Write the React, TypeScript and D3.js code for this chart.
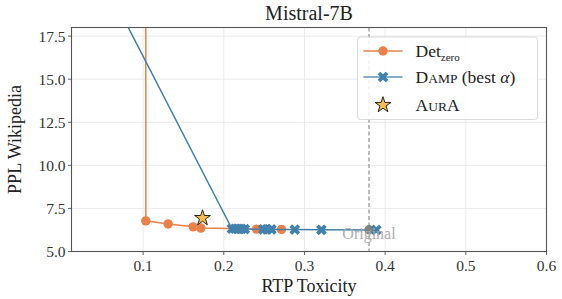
import React from 'react';
import * as d3 from 'd3';

// Det_zero sweep (orange)
const detX = [0.1033, 0.1033, 0.131, 0.162, 0.1716, 0.2405, 0.2715];
const detY = [60, 6.78, 6.6, 6.43, 6.36, 6.3, 6.28];

// Damp, best alpha (blue)
const dampX = [0.0376, 0.21, 0.214, 0.218, 0.222, 0.226, 0.249, 0.2535, 0.259, 0.288, 0.321, 0.389];
const dampY = [22.0, 6.32, 6.32, 6.31, 6.31, 6.3, 6.29, 6.29, 6.28, 6.27, 6.26, 6.25];

// AurA and the unmodified model
const auraPoint = { x: 0.1736, y: 6.94 };
const originalPoint = { x: 0.38, y: 6.26 };

const xTicks = [0.1, 0.2, 0.3, 0.4, 0.5, 0.6];
const yTicks = [5.0, 7.5, 10.0, 12.5, 15.0, 17.5];

const W = 562;
const H = 299;
const margin = { top: 27.5, right: 15.5, bottom: 47.5, left: 71.5 };
const FONT = '"Liberation Serif", "DejaVu Serif", serif';
const ORANGE = '#e8804c';
const BLUE = '#4281ab';
const GRAY = '#808080';
const AXIS = '#555';

export default function App() {
  const iw = W - margin.left - margin.right;
  const ih = H - margin.top - margin.bottom;

  const x = d3.scaleLinear().domain([0.0112, 0.6]).range([0, iw]);
  const y = d3.scaleLinear().domain([5, 18]).range([ih, 0]);

  const line = d3.line<[number, number]>()
    .x(d => x(d[0]))
    .y(d => y(d[1]));

  const detPts: [number, number][] = detX.map((v, i) => [v, detY[i]]);
  const dampPts: [number, number][] = dampX.map((v, i) => [v, dampY[i]]);

  const xMark = d3.symbol(d3.symbolCross, 72)() as string;
  const star = d3.symbol(d3.symbolStar, 78)() as string;

  const lx = 357.5 - margin.left;
  const ly = 37 - margin.top;

  return (
    <svg width={W} height={H} style={{ position: 'absolute', left: 0, top: 0, background: '#fff' }}
      fontFamily={FONT}>
      <defs>
        <clipPath id="plot-clip">
          <rect x={0} y={0} width={iw} height={ih} />
        </clipPath>
      </defs>
      <text x={margin.left + iw / 2} y={19.5} textAnchor="middle" fontSize={20} fill="#222">Mistral-7B</text>
      <g transform={`translate(${margin.left},${margin.top})`}>
        {/* grid */}
        {xTicks.map(t => (
          <line key={'gx' + t} x1={x(t)} x2={x(t)} y1={0} y2={ih} stroke="#e6e6e6" strokeWidth={0.8} />
        ))}
        {yTicks.map(t => (
          <line key={'gy' + t} x1={0} x2={iw} y1={y(t)} y2={y(t)} stroke="#e6e6e6" strokeWidth={0.8} />
        ))}

        {/* reference line at the original model */}
        <line x1={x(originalPoint.x)} x2={x(originalPoint.x)} y1={0} y2={ih}
          stroke="#777" strokeWidth={1} strokeDasharray="4,2.5" />

        <g clipPath="url(#plot-clip)">
          <path d={line(detPts) as string} fill="none" stroke={ORANGE} strokeWidth={1.5} />
          {detPts.map((d, i) => (
            <circle key={'dc' + i} cx={x(d[0])} cy={y(d[1])} r={4.7} fill={ORANGE} />
          ))}
          <path d={line(dampPts) as string} fill="none" stroke={BLUE} strokeWidth={1.5} />
          <circle cx={x(originalPoint.x)} cy={y(originalPoint.y)} r={4.7} fill={GRAY} />
          {dampPts.map((d, i) => (
            <path key={'dx' + i} d={xMark} fill={BLUE}
              transform={`translate(${x(d[0])},${y(d[1])}) rotate(45)`} />
          ))}
          <path d={star} fill="#f7bd4f" stroke="#111" strokeWidth={0.9}
            transform={`translate(${x(auraPoint.x)},${y(auraPoint.y)})`} />
        </g>

        <text x={x(originalPoint.x)} y={y(originalPoint.y) + 9} textAnchor="middle" fontSize={16}
          fill="#aaa" opacity={0.95}>Original</text>

        {/* frame */}
        <rect x={0} y={0} width={iw} height={ih} fill="none" stroke={AXIS} strokeWidth={1.1} />

        {/* x axis */}
        {xTicks.map(t => (
          <g key={'xt' + t} transform={`translate(${x(t)},${ih})`}>
            <line y1={0} y2={3.5} stroke={AXIS} strokeWidth={0.9} />
            <text y={19} textAnchor="middle" fontSize={15.5} fill="#333">{t.toFixed(1)}</text>
          </g>
        ))}
        {/* y axis */}
        {yTicks.map(t => (
          <g key={'yt' + t} transform={`translate(0,${y(t)})`}>
            <line x1={0} x2={-3.5} stroke={AXIS} strokeWidth={0.9} />
            <text x={-6} dy="0.35em" textAnchor="end" fontSize={15.5} fill="#333">{t.toFixed(1)}</text>
          </g>
        ))}

        <text x={iw / 2} y={ih + 40.5} textAnchor="middle" fontSize={18} fill="#222">RTP Toxicity</text>
        <text transform={`translate(${-51},${ih / 2}) rotate(-90)`} textAnchor="middle" fontSize={18}
          fill="#222">PPL Wikipedia</text>

        {/* legend */}
        <g transform={`translate(${lx},${ly})`}>
          <rect x={0} y={0} width={180} height={82.5} rx={3} fill="#fff" fillOpacity={0.85}
            stroke="#d6d6d6" strokeWidth={0.9} />
          <line x1={6} x2={45} y1={14} y2={14} stroke={ORANGE} strokeWidth={1.5} />
          <circle cx={25.5} cy={14} r={4.7} fill={ORANGE} />
          <text x={58} y={20} fontSize={17.5} fill="#222">
            Det<tspan fontSize={11} dy={3.5}>zero</tspan>
          </text>

          <line x1={6} x2={45} y1={40} y2={40} stroke={BLUE} strokeWidth={1.5} opacity={0.85} />
          <path d={xMark} fill={BLUE} transform={`translate(25.5,40) rotate(45)`} />
          <text x={58} y={46} fontSize={17.5} fill="#222">
            D<tspan fontSize={13.5}>AMP</tspan> (best <tspan fontStyle="italic">α</tspan>)
          </text>

          <path d={star} fill="#f7bd4f" stroke="#111" strokeWidth={0.9} transform={`translate(25.5,68)`} />
          <text x={58} y={74} fontSize={17.5} fill="#222">
            A<tspan fontSize={13.5}>UR</tspan>A
          </text>
        </g>
      </g>
    </svg>
  );
}
